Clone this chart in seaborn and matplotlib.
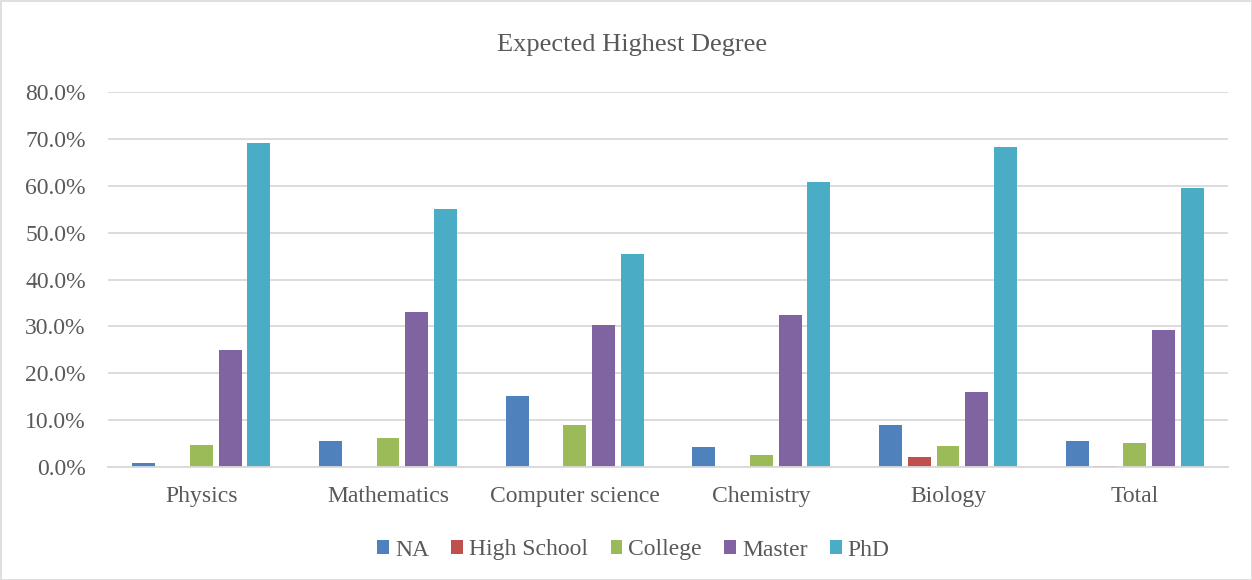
import numpy as np
import pandas as pd
import matplotlib
matplotlib.use("Agg")
import matplotlib.pyplot as plt
from matplotlib.patches import Rectangle
from matplotlib.ticker import PercentFormatter
import seaborn as sns

fields = ["Physics", "Mathematics", "Computer science", "Chemistry", "Biology", "Total"]
degrees = ["NA", "High School", "College", "Master", "PhD"]

na = [0.9, 5.5, 15.1, 4.3, 9.0, 5.5]
high_school = [0.0, 0.0, 0.0, 0.0, 2.1, 0.3]
college = [4.7, 6.2, 9.0, 2.5, 4.5, 5.2]
master = [25.0, 33.0, 30.3, 32.4, 15.9, 29.2]
phd = [69.2, 55.0, 45.4, 60.7, 68.2, 59.5]

colors = ["#4F81BD", "#C0504D", "#9BBB59", "#8064A2", "#4BACC6"]
text_color = "#595959"
grid_color = "#D9D9D9"

series = [na, high_school, college, master, phd]
df = pd.DataFrame(
    [(f, d, v / 100.0) for d, vals in zip(degrees, series) for f, v in zip(fields, vals)],
    columns=["field", "degree", "share"],
)

sns.set_theme(style="white")
plt.rcParams["font.family"] = ["Liberation Serif", "DejaVu Serif"]

fig = plt.figure(figsize=(12.52, 5.8), dpi=100)
ax = fig.add_axes([108 / 1252, 113 / 580, 1120 / 1252, 375 / 580])

sns.barplot(
    data=df, x="field", y="share", hue="degree",
    order=fields, hue_order=degrees, palette=colors, saturation=1,
    width=0.77, gap=0.2, linewidth=0,
    legend=False, ax=ax,
)

ax.set_ylim(0, 0.8)
ax.set_xlim(-0.5, len(fields) - 0.5)
ax.set_yticks(np.arange(0, 0.81, 0.1))
ax.yaxis.set_major_formatter(PercentFormatter(1.0, decimals=1))
ax.set_xlabel("")
ax.set_ylabel("")
ax.grid(axis="y", color=grid_color, linewidth=1.3)
ax.set_axisbelow(True)
for side in ["left", "right", "top"]:
    ax.spines[side].set_visible(False)
ax.spines["bottom"].set_color(grid_color)
ax.spines["bottom"].set_linewidth(1.3)
ax.tick_params(axis="y", length=0, pad=16, labelsize=17, labelcolor=text_color)
ax.tick_params(axis="x", length=0, pad=14, labelsize=17, labelcolor=text_color)

fig.text(0.5 + 6 / 1252, 1 - 45 / 580, "Expected Highest Degree", ha="center", va="center",
         fontsize=19, color=text_color)

handles = [Rectangle((0, 0), 1, 1, facecolor=c, edgecolor="none") for c in colors]
fig.legend(handles, degrees, loc="center", bbox_to_anchor=(0.506, 1 - 550 / 580),
           ncol=5, frameon=False, fontsize=17, labelcolor=text_color,
           handlelength=0.5, handleheight=0.5, handletextpad=0.25, columnspacing=0.95)

fig.patches.append(Rectangle((0.5 / 1252, 0.5 / 580), 1 - 1 / 1252, 1 - 1 / 580,
                             transform=fig.transFigure, fill=False,
                             edgecolor=grid_color, linewidth=1.2))

fig.savefig("out.png", dpi=100, facecolor="white")
